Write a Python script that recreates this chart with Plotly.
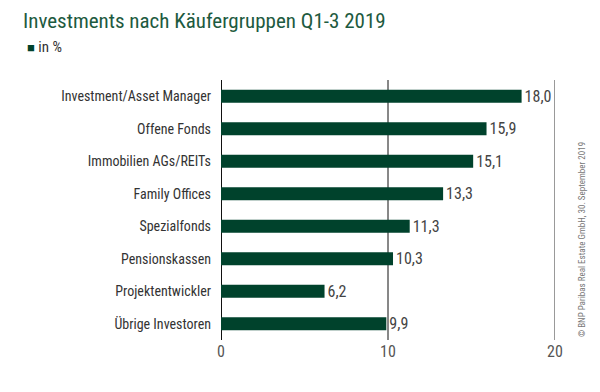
import plotly.graph_objects as go

categories = ["Investment/Asset Manager", "Offene Fonds", "Immobilien AGs/REITs",
              "Family Offices", "Spezialfonds", "Pensionskassen",
              "Projektentwickler", "Übrige Investoren"]
values = [18.0, 15.9, 15.1, 13.3, 11.3, 10.3, 6.2, 9.9]
tick_vals = [0, 10, 20]
tick_labels = ["0", "10", "20"]

green = "#00422c"
narrow = "Liberation Sans Narrow, Roboto Condensed, Roboto"
labels = [f"{v:.1f}".replace(".", ",") for v in values]

fig = go.Figure()
fig.add_trace(go.Bar(
    y=categories, x=values, orientation="h",
    marker=dict(color=green, line=dict(width=0)),
    width=0.4,
    text=labels, textposition="outside", constraintext="none",
    textfont=dict(size=16, color="#444444", family=narrow),
    cliponaxis=False, hoverinfo="skip",
))

shapes = []
for v, col, w in [(0, "#111111", 2), (10, "#111111", 1), (20, "#777777", 1.5)]:
    shapes.append(dict(type="line", xref="x", yref="paper", x0=v, x1=v, y0=0, y1=1,
                       line=dict(color=col, width=w), layer="below"))

L, R, T, B = 221, 45, 80, 52
fig.update_layout(
    width=600, height=392,
    margin=dict(l=L, r=R, t=T, b=B, autoexpand=False),
    plot_bgcolor="white", paper_bgcolor="white",
    showlegend=False,
    shapes=shapes,
    xaxis=dict(range=[0, 20], tickvals=tick_vals, ticktext=tick_labels, automargin=False,
               showgrid=False, zeroline=False, showline=False,
               tickfont=dict(size=16, color="#555555", family=narrow), ticks=""),
    yaxis=dict(autorange="reversed", showgrid=False, zeroline=False, showline=False,
               automargin=False,
               tickfont=dict(size=14, color="#333333", family=narrow), ticks="",
               ticklabelstandoff=9),
)

pw, ph = 600 - L - R, 392 - T - B
def px(x, y):
    return (x - L) / pw, 1 - (y - T) / ph

anns = [
    dict(text="Investments nach Käufergruppen Q1-3 2019", pos=(21, 21), anchor="left",
         font=dict(size=21, color="#1d5a40", family=narrow), angle=0),
    dict(text="<span style='color:#00422c;font-size:13px'>■</span> in %", pos=(25, 47), anchor="left",
         font=dict(size=15, color="#333333", family=narrow), angle=0),
    dict(text="© BNP Paribas Real Estate GmbH, 30. September 2019", pos=(582, 240), anchor="center",
         font=dict(size=9, color="#777777", family=narrow), angle=-90),
]
for a in anns:
    x, y = px(*a["pos"])
    fig.add_annotation(text=a["text"], x=x, y=y, xref="paper", yref="paper", showarrow=False,
                       xanchor=a["anchor"], yanchor="middle", textangle=a["angle"], font=a["font"])

fig.write_html("out.html", config={"displayModeBar": False},
               post_script="document.body.style.margin='0';")
